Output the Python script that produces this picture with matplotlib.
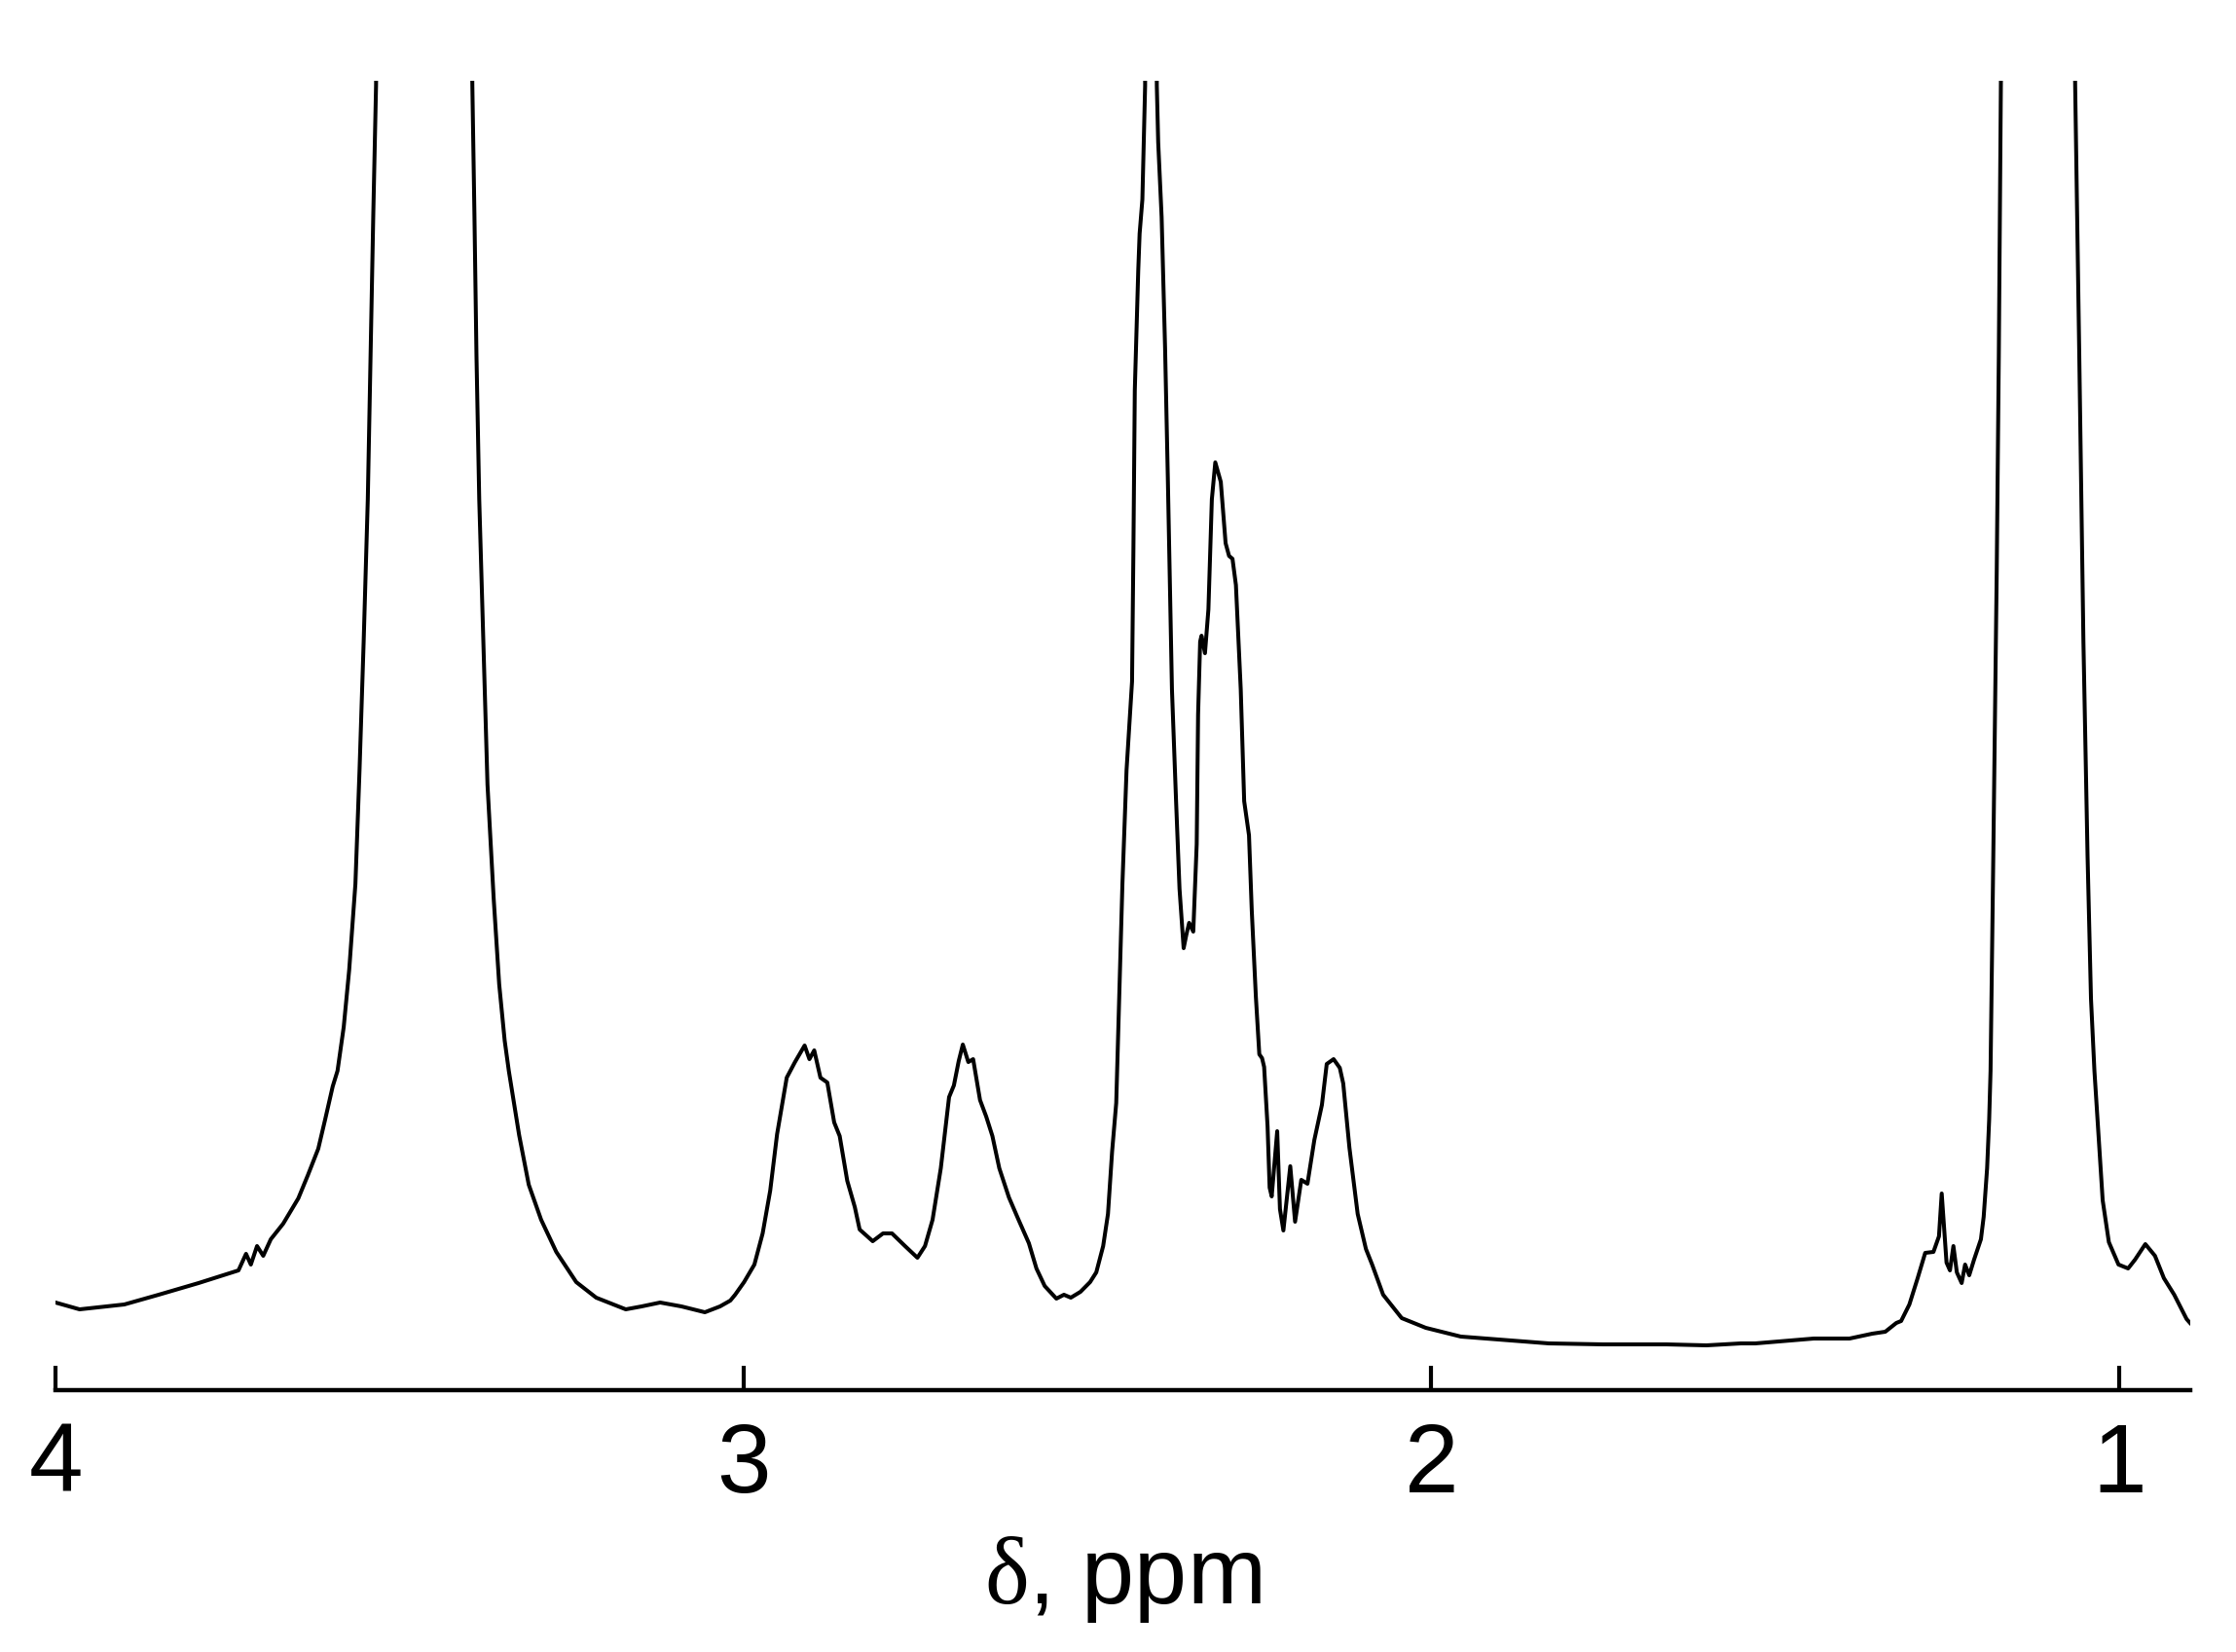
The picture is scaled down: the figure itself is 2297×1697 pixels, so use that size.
import matplotlib
matplotlib.use('Agg')
import matplotlib.pyplot as plt

# 1H NMR spectrum (chemical shift in ppm, intensity in a.u.)
ppm = [
    4.000, 3.965, 3.900, 3.850, 3.792, 3.734, 3.723, 3.716, 3.707, 3.698,
    3.687, 3.669, 3.647, 3.633, 3.618, 3.608, 3.597, 3.590, 3.581, 3.573,
    3.564, 3.558, 3.552, 3.546, 3.542, 3.538, 3.534, 3.530, 3.465, 3.398,
    3.394, 3.391, 3.388, 3.384, 3.378, 3.372, 3.363, 3.355, 3.347, 3.341,
    3.326, 3.312, 3.294, 3.272, 3.243, 3.214, 3.171, 3.148, 3.121, 3.090,
    3.056, 3.034, 3.019, 3.012, 2.999, 2.984, 2.972, 2.961, 2.951, 2.937,
    2.925, 2.911, 2.904, 2.897, 2.888, 2.878, 2.868, 2.860, 2.849, 2.838,
    2.831, 2.812, 2.797, 2.784, 2.765, 2.747, 2.736, 2.725, 2.713, 2.701,
    2.694, 2.687, 2.681, 2.673, 2.666, 2.656, 2.647, 2.638, 2.628, 2.614,
    2.600, 2.585, 2.574, 2.562, 2.545, 2.534, 2.524, 2.510, 2.496, 2.487,
    2.477, 2.470, 2.464, 2.458, 2.454, 2.449, 2.443, 2.435, 2.433, 2.431,
    2.426, 2.424, 2.420, 2.416, 2.410, 2.399, 2.397, 2.392, 2.387, 2.383,
    2.380, 2.377, 2.371, 2.366, 2.360, 2.356, 2.352, 2.346, 2.341, 2.339,
    2.336, 2.334, 2.329, 2.324, 2.322, 2.319, 2.314, 2.306, 2.299, 2.294,
    2.289, 2.284, 2.277, 2.272, 2.265, 2.261, 2.255, 2.250, 2.246, 2.243,
    2.238, 2.235, 2.232, 2.224, 2.220, 2.215, 2.205, 2.198, 2.189, 2.180,
    2.170, 2.159, 2.152, 2.142, 2.133, 2.128, 2.119, 2.107, 2.095, 2.086,
    2.070, 2.043, 2.008, 1.957, 1.829, 1.750, 1.658, 1.600, 1.550, 1.529,
    1.444, 1.392, 1.359, 1.340, 1.324, 1.317, 1.305, 1.293, 1.282, 1.270,
    1.262, 1.258, 1.255, 1.251, 1.246, 1.241, 1.236, 1.229, 1.224, 1.218,
    1.211, 1.201, 1.197, 1.192, 1.189, 1.187, 1.183, 1.178, 1.175, 1.172,
    1.118, 1.064, 1.058, 1.052, 1.046, 1.041, 1.036, 1.030, 1.024, 1.015,
    1.001, 0.987, 0.977, 0.962, 0.948, 0.935, 0.920, 0.902, 0.897,
]
intensity = [
    90, 83, 88, 98, 110, 123, 140, 129, 148, 138,
    155, 171, 197, 221, 248, 278, 312, 328, 373, 432,
    520, 637, 769, 915, 1062, 1208, 1340, 1600, 5000, 1600,
    1340, 1208, 1062, 915, 769, 622, 505, 417, 359, 328,
    262, 211, 175, 142, 111, 95, 83, 86, 90, 86,
    80, 86, 92, 98, 111, 129, 161, 205, 263, 321,
    337, 354, 340, 349, 321, 316, 275, 261, 215, 188,
    165, 153, 161, 161, 148, 136, 148, 175, 228, 301,
    313, 338, 355, 337, 340, 298, 281, 261, 228, 198,
    175, 151, 125, 107, 94, 98, 95, 101, 111, 121,
    148, 181, 245, 295, 395, 520, 637, 728, 865, 1027,
    1150, 1188, 1223, 1340, 4000, 1340, 1282, 1205, 1071, 937,
    827, 720, 605, 515, 454, 468, 480, 471, 561, 694,
    769, 775, 757, 802, 848, 915, 953, 933, 870, 857,
    854, 827, 720, 605, 570, 493, 404, 345, 341, 332,
    271, 208, 199, 266, 186, 164, 230, 173, 216, 212,
    257, 293, 335, 340, 331, 315, 249, 181, 145, 129,
    98, 74, 64, 55, 48, 47, 47, 46, 48, 48,
    53, 53, 58, 60, 69, 71, 88, 115, 141, 142,
    158, 202, 171, 131, 123, 148, 121, 110, 129, 118,
    134, 155, 178, 228, 278, 328, 549, 842, 1062, 1340,
    5000, 1340, 1062, 769, 549, 402, 328, 262, 195, 152,
    129, 125, 134, 150, 138, 115, 98, 73, 69,
]

x_ticks = [4, 3, 2, 1]
x_label = r'$\mathrm{\delta}$, ppm'

plt.rcParams['font.family'] = ['Liberation Sans', 'DejaVu Sans']
plt.rcParams['mathtext.fontset'] = 'custom'
plt.rcParams['mathtext.rm'] = 'Liberation Serif'

fig = plt.figure(figsize=(22.97, 16.97), dpi=100)
ax = fig.add_axes([57 / 2297, 269 / 1697, 2193 / 2297, 1345 / 1697])

ax.plot(ppm, intensity, color='black', linewidth=2.9, solid_joinstyle='round')

ax.set_xlim(4, 0.8967)
ax.set_ylim(0, 1345)

for side in ['top', 'left', 'right']:
    ax.spines[side].set_visible(False)
ax.spines['bottom'].set_linewidth(3.2)

ax.set_xticks(x_ticks)
ax.set_xticklabels([str(t) for t in x_ticks])
ax.set_yticks([])
ax.tick_params(axis='x', direction='in', length=18, width=3.0,
               labelsize=72, pad=23)
ax.set_xlabel(x_label, fontsize=70, labelpad=16)

fig.savefig('out.png', dpi=100)
